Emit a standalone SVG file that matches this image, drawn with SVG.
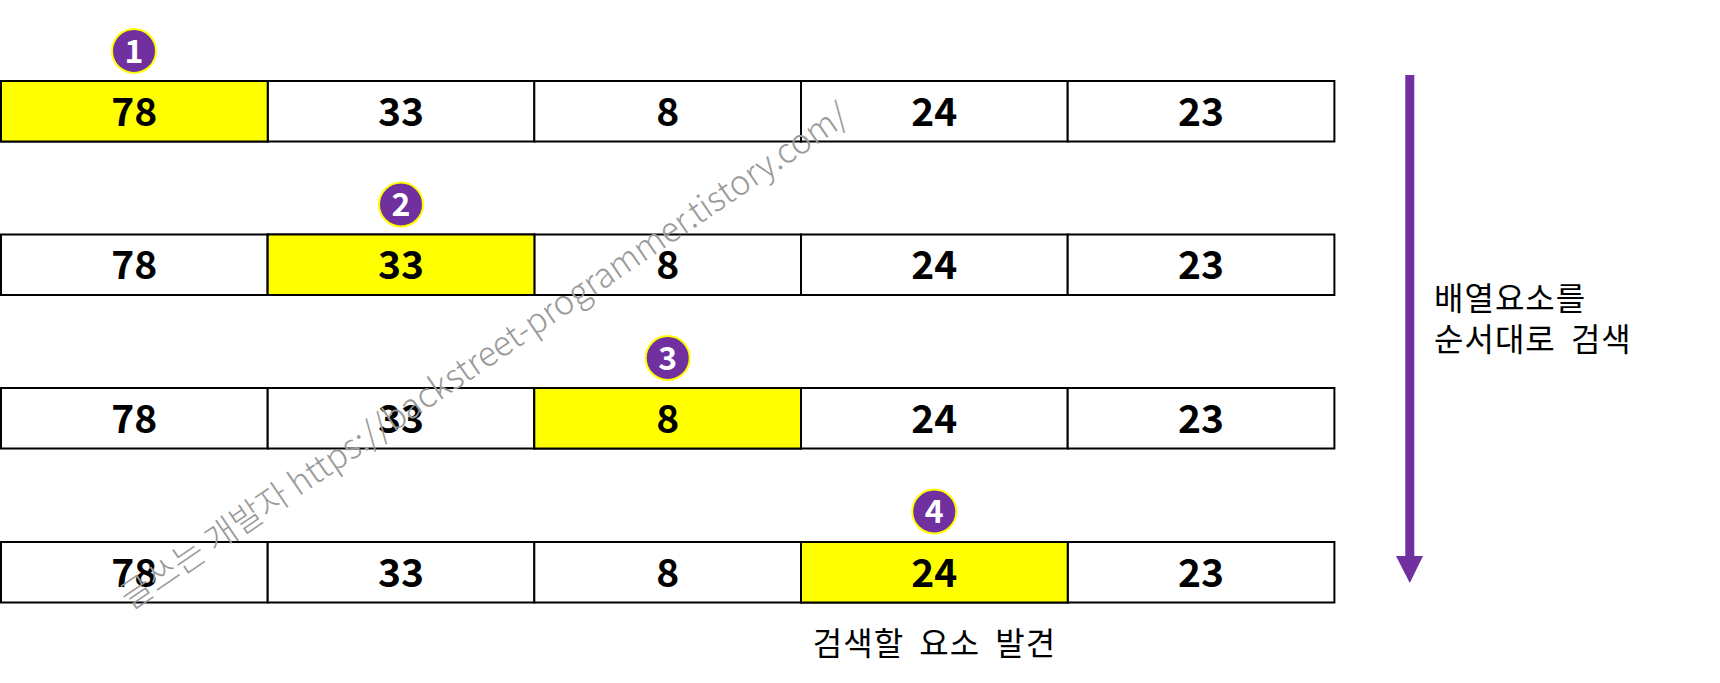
<svg xmlns="http://www.w3.org/2000/svg" width="1720" height="683" viewBox="0 0 1720 683">
<style>
.cell{fill:#ffffff;stroke:#000000;stroke-width:2}
.hl{fill:#ffff00}
.num{font-family:"Noto Sans CJK KR","Noto Sans",sans-serif;font-weight:bold;font-size:39px;fill:#000000;text-anchor:middle}
.badge{fill:#7030a0;stroke:#ffff00;stroke-width:2}
.bnum{font-family:"Noto Sans CJK KR","Noto Sans",sans-serif;font-weight:bold;font-size:32px;fill:#ffffff;text-anchor:middle}
.label{font-family:"Noto Sans CJK KR",sans-serif;font-size:32px;fill:#000000;letter-spacing:1px;word-spacing:7px}
.wm{font-family:"Noto Sans CJK KR",sans-serif;font-weight:300;font-size:34px;fill:#9a9a9a}
</style>
<rect width="1720" height="683" fill="#ffffff"/>
<defs>
<g id="row">
<rect class="cell" x="1" y="0" width="266.7" height="60.5"/>
<rect class="cell" x="267.7" y="0" width="266.7" height="60.5"/>
<rect class="cell" x="534.3" y="0" width="266.7" height="60.5"/>
<rect class="cell" x="801" y="0" width="266.7" height="60.5"/>
<rect class="cell" x="1067.7" y="0" width="266.7" height="60.5"/>
</g>
</defs>
<g id="row1" transform="translate(0,81)">
<use href="#row"/>
<rect class="cell hl" x="1" y="0" width="266.7" height="60.5"/>
<text class="num" x="134.3" y="44.5">78</text>
<text class="num" x="401" y="44.5">33</text>
<text class="num" x="667.7" y="44.5">8</text>
<text class="num" x="934.3" y="44.5">24</text>
<text class="num" x="1201" y="44.5">23</text>
</g>
<g id="row2" transform="translate(0,234.5)">
<use href="#row"/>
<rect class="cell hl" x="267.7" y="0" width="266.7" height="60.5"/>
<text class="num" x="134.3" y="44.5">78</text>
<text class="num" x="401" y="44.5">33</text>
<text class="num" x="667.7" y="44.5">8</text>
<text class="num" x="934.3" y="44.5">24</text>
<text class="num" x="1201" y="44.5">23</text>
</g>
<g id="row3" transform="translate(0,388)">
<use href="#row"/>
<rect class="cell hl" x="534.3" y="0" width="266.7" height="60.5"/>
<text class="num" x="134.3" y="44.5">78</text>
<text class="num" x="401" y="44.5">33</text>
<text class="num" x="667.7" y="44.5">8</text>
<text class="num" x="934.3" y="44.5">24</text>
<text class="num" x="1201" y="44.5">23</text>
</g>
<g id="row4" transform="translate(0,542)">
<use href="#row"/>
<rect class="cell hl" x="801" y="0" width="266.7" height="60.5"/>
<text class="num" x="134.3" y="44.5">78</text>
<text class="num" x="401" y="44.5">33</text>
<text class="num" x="667.7" y="44.5">8</text>
<text class="num" x="934.3" y="44.5">24</text>
<text class="num" x="1201" y="44.5">23</text>
</g>
<g id="badge1"><circle class="badge" cx="134" cy="51" r="22"/><text class="bnum" x="134" y="62.5">1</text></g>
<g id="badge2"><circle class="badge" cx="401" cy="204.5" r="22"/><text class="bnum" x="401" y="216">2</text></g>
<g id="badge3"><circle class="badge" cx="667.7" cy="358" r="22"/><text class="bnum" x="667.7" y="369.5">3</text></g>
<g id="badge4"><circle class="badge" cx="934.3" cy="511.5" r="22"/><text class="bnum" x="934.3" y="523">4</text></g>
<g id="connectors">
<rect x="1405.3" y="75" width="9" height="482" fill="#7030a0"/>
<polygon points="1396,556 1423,556 1409.8,583" fill="#7030a0"/>
</g>
<g id="label-scan">
<text class="label" x="1434" y="310">배열요소를</text>
<text class="label" x="1434" y="351">순서대로 검색</text>
</g>
<g id="label-found">
<text class="label" x="934.5" y="655" text-anchor="middle">검색할 요소 발견</text>
</g>
<g id="watermark">
<text class="wm" transform="translate(491,366) rotate(-34.2)" text-anchor="middle">글쓰는 개발자 https://backstreet-programmer.tistory.com/</text>
</g>
</svg>
